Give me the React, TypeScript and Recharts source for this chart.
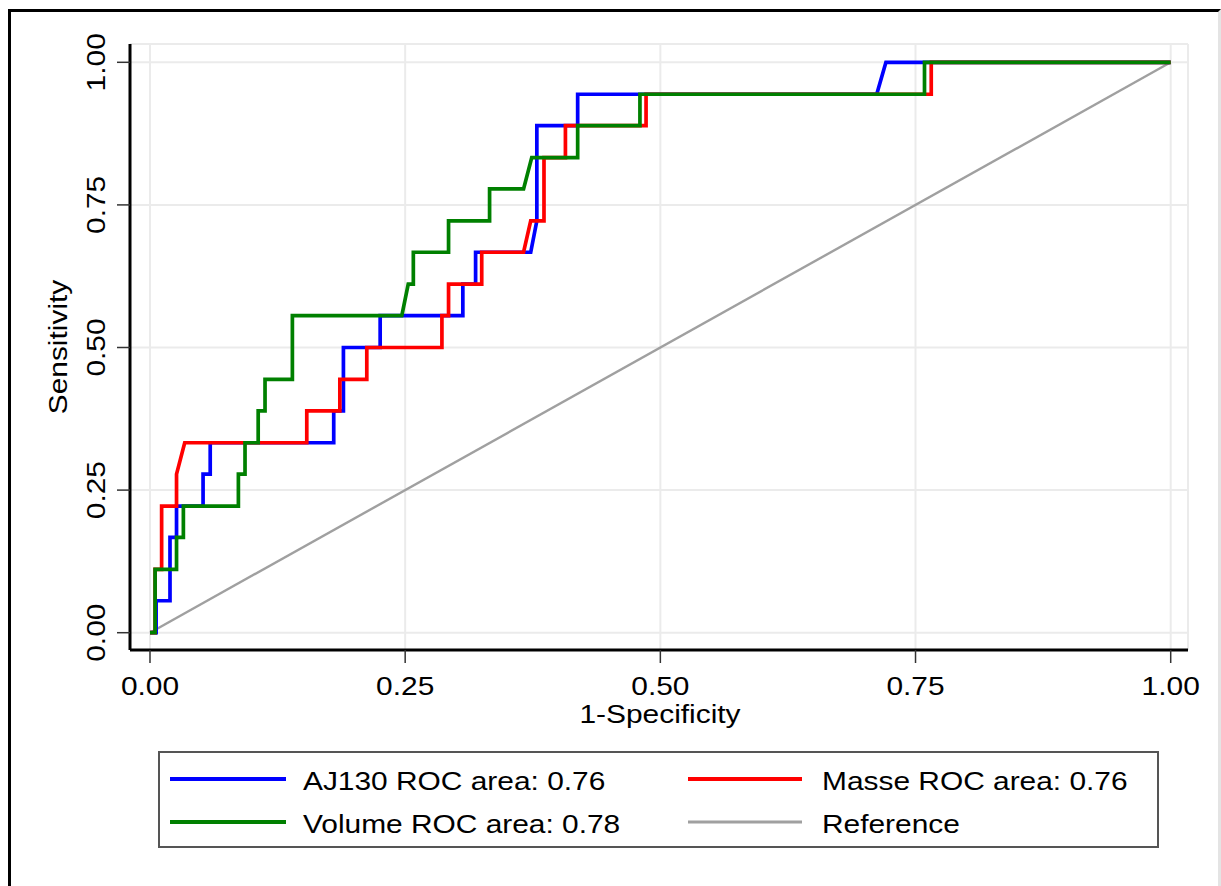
import React from "react";
import {
  LineChart,
  Line,
  XAxis,
  YAxis,
  CartesianGrid,
  Legend,
} from "recharts";

// 1-specificity / sensitivity pairs
const aj130Fpr = [0, 0.006, 0.006, 0.0196, 0.0196, 0.026, 0.026, 0.052, 0.052, 0.059, 0.059, 0.18, 0.18, 0.1895, 0.1895, 0.2255, 0.2255, 0.3065, 0.3065, 0.319, 0.319, 0.373, 0.379, 0.379, 0.419, 0.419, 0.712, 0.721, 1];
const aj130Tpr = [0, 0, 0.056, 0.056, 0.167, 0.167, 0.222, 0.222, 0.278, 0.278, 0.333, 0.333, 0.389, 0.389, 0.5, 0.5, 0.556, 0.556, 0.611, 0.611, 0.667, 0.667, 0.722, 0.889, 0.889, 0.944, 0.944, 1, 1];

const masseFpr = [0, 0.005, 0.005, 0.0114, 0.0114, 0.026, 0.026, 0.034, 0.1536, 0.1536, 0.186, 0.186, 0.2124, 0.2124, 0.286, 0.286, 0.2925, 0.2925, 0.325, 0.325, 0.366, 0.373, 0.386, 0.386, 0.407, 0.407, 0.486, 0.486, 0.7654, 0.7654, 1];
const masseTpr = [0, 0, 0.111, 0.111, 0.222, 0.222, 0.278, 0.333, 0.333, 0.389, 0.389, 0.444, 0.444, 0.5, 0.5, 0.556, 0.556, 0.611, 0.611, 0.667, 0.667, 0.722, 0.722, 0.833, 0.833, 0.889, 0.889, 0.944, 0.944, 1, 1];

const volumeFpr = [0, 0.005, 0.005, 0.026, 0.026, 0.0327, 0.0327, 0.0866, 0.0866, 0.0931, 0.0931, 0.106, 0.106, 0.1127, 0.1127, 0.1395, 0.1395, 0.2467, 0.253, 0.258, 0.258, 0.2925, 0.2925, 0.3327, 0.3327, 0.366, 0.374, 0.419, 0.419, 0.48, 0.48, 0.7588, 0.7588, 1];
const volumeTpr = [0, 0, 0.111, 0.111, 0.167, 0.167, 0.222, 0.222, 0.278, 0.278, 0.333, 0.333, 0.389, 0.389, 0.444, 0.444, 0.556, 0.556, 0.611, 0.611, 0.667, 0.667, 0.722, 0.722, 0.778, 0.778, 0.833, 0.833, 0.889, 0.889, 0.944, 0.944, 1, 1];

const referenceFpr = [0, 1];
const referenceTpr = [0, 1];

const axisTicks = [0, 0.25, 0.5, 0.75, 1];

const seriesNames = ["AJ130 ROC area: 0.76", "Masse ROC area: 0.76", "Volume ROC area: 0.78", "Reference"];
const seriesColors = ["#0000ff", "#ff0000", "#008000", "#a0a0a0"];

const zip = (xs: number[], ys: number[]) => xs.map((x, i) => ({ x, y: ys[i] }));

const aj130 = zip(aj130Fpr, aj130Tpr);
const masse = zip(masseFpr, masseTpr);
const volume = zip(volumeFpr, volumeTpr);
const reference = zip(referenceFpr, referenceTpr);

const FONT = '"Liberation Sans", Arial, sans-serif';
const textStyle = { fontFamily: FONT, fontSize: 26, fill: "#000" };

// the original export has horizontally stretched glyphs
function WideText({ x, y, rotate = 0, anchor = "start", children }: any) {
  return (
    <g transform={`translate(${x}, ${y}) rotate(${rotate}) scale(1.15, 1)`}>
      <text x={0} y={0} textAnchor={anchor} style={textStyle}>
        {children}
      </text>
    </g>
  );
}

function XTick(props: any) {
  const { x, payload } = props;
  return (
    <WideText x={x} y={695} anchor="middle">
      {Number(payload.value).toFixed(2)}
    </WideText>
  );
}

function YTick(props: any) {
  const { y, payload } = props;
  return (
    <WideText x={105} y={y} rotate={-90} anchor="middle">
      {Number(payload.value).toFixed(2)}
    </WideText>
  );
}

function LegendBox() {
  // [lineStart, lineEnd, textX, rowY] per item in the 2x2 legend
  const slots = [
    [12, 128, 145, 28],
    [530, 644, 664, 28],
    [12, 128, 145, 71],
    [530, 644, 664, 71],
  ];
  return (
    <svg width={1001} height={97} style={{ display: "block" }}>
      <rect x={1} y={1} width={999} height={95} fill="#fff" stroke="#555" strokeWidth={2} />
      {seriesNames.map((name, i) => {
        const [x1, x2, tx, ry] = slots[i];
        return (
          <g key={name}>
            <line x1={x1} x2={x2} y1={ry} y2={ry} stroke={seriesColors[i]} strokeWidth={i === 3 ? 3 : 4} />
            <WideText x={tx} y={ry + 11}>
              {name}
            </WideText>
          </g>
        );
      })}
    </svg>
  );
}

export default function App() {
  return (
    <div style={{ position: "absolute", left: 0, top: 0, width: 1221, height: 886, overflow: "hidden", background: "#fff" }}>
      <div
        style={{
          position: "absolute",
          left: 8,
          top: 9,
          width: 1207,
          height: 900,
          borderLeft: "3px solid #000",
          borderTop: "3px solid #000",
          borderRight: "3px solid #e4e4e4",
        }}
      />
      <div style={{ position: "absolute", left: 0, top: 0 }}>
        <LineChart width={1221} height={886} margin={{ top: 44, right: 33, left: 0, bottom: 0 }}>
          <CartesianGrid stroke="#ebebeb" strokeWidth={2} />
          <XAxis
            dataKey="x"
            type="number"
            domain={[-0.01959, 1.01695]}
            allowDataOverflow
            ticks={axisTicks}
            height={236}
            tickSize={13}
            axisLine={{ stroke: "#000", strokeWidth: 3 }}
            tickLine={{ stroke: "#333", strokeWidth: 1.5 }}
            tick={<XTick />}
            label={{
              content: () => (
                <WideText x={660} y={723} anchor="middle">
                  1-Specificity
                </WideText>
              ),
            }}
          />
          <YAxis
            type="number"
            domain={[-0.03033, 1.03209]}
            allowDataOverflow
            ticks={axisTicks}
            width={130}
            tickSize={13}
            axisLine={{ stroke: "#000", strokeWidth: 3 }}
            tickLine={{ stroke: "#333", strokeWidth: 1.5 }}
            tick={<YTick />}
            label={{
              content: () => (
                <WideText x={67} y={347} rotate={-90} anchor="middle">
                  Sensitivity
                </WideText>
              ),
            }}
          />
          <Legend
            layout="horizontal"
            verticalAlign="middle"
            align="center"
            wrapperStyle={{ left: 158, top: 751, width: 1001, height: 97 }}
            content={() => <LegendBox />}
          />
          <Line data={reference} dataKey="y" name={seriesNames[3]} type="linear" stroke={seriesColors[3]} strokeWidth={2.4} dot={false} activeDot={false} isAnimationActive={false} />
          <Line data={aj130} dataKey="y" name={seriesNames[0]} type="linear" stroke={seriesColors[0]} strokeWidth={3.7} dot={false} activeDot={false} isAnimationActive={false} />
          <Line data={masse} dataKey="y" name={seriesNames[1]} type="linear" stroke={seriesColors[1]} strokeWidth={3.7} dot={false} activeDot={false} isAnimationActive={false} />
          <Line data={volume} dataKey="y" name={seriesNames[2]} type="linear" stroke={seriesColors[2]} strokeWidth={3.7} dot={false} activeDot={false} isAnimationActive={false} />
        </LineChart>
      </div>
    </div>
  );
}
